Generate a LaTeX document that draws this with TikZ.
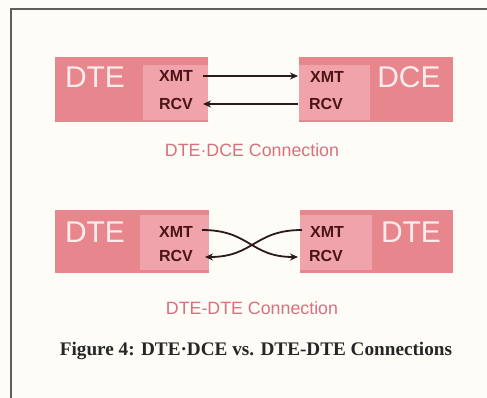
\documentclass[tikz,border=0pt]{standalone}
\usepackage{fontspec}
\setmainfont{Liberation Serif}
\setsansfont{Liberation Sans}
\usetikzlibrary{arrows.meta}
\definecolor{bg}{HTML}{FDFCF6}
\definecolor{boxout}{HTML}{E8868E}
\definecolor{boxin}{HTML}{F0A3AA}
\definecolor{bigtxt}{HTML}{FCEDEC}
\definecolor{sigtxt}{HTML}{4A1518}
\definecolor{wire}{HTML}{2A1A1A}
\definecolor{subtxt}{HTML}{D8707E}
\definecolor{frame}{HTML}{5E5E5A}
\tikzset{
  outerbox/.style={fill=boxout, draw=none},
  innerbox/.style={fill=boxin, draw=none},
  bigname/.style={font=\sffamily\fontsize{30}{30}\selectfont, text=bigtxt, inner sep=0pt},
  sig/.style={font=\sffamily\bfseries\fontsize{16}{16}\selectfont, text=sigtxt, inner sep=0pt},
  subcap/.style={font=\sffamily\fontsize{17.8}{17.8}\selectfont, text=subtxt, inner sep=0pt},
  figcap/.style={font=\bfseries\fontsize{19.2}{19.2}\selectfont, text=black!85, inner sep=0pt},
  wireline/.style={draw=wire, line width=1.8pt},
  tip/.style={-{Stealth[length=8pt,width=7pt]}}
}
\begin{document}
\begin{tikzpicture}[x=1pt,y=-1pt]
\useasboundingbox (0,0) rectangle (487,398);
\fill[bg] (0,0) rectangle (487,398);
% frame
\draw[frame, line width=2pt] (487,9) -- (11,9) -- (11,398);

% top pair
\fill[outerbox] (55,57) rectangle (208,122);
\fill[innerbox] (143,65) rectangle (208,120);
\fill[outerbox] (299,57) rectangle (453,122);
\fill[innerbox] (299,65) rectangle (370,120);
\node[bigname] (dteA) at (95,77) {DTE};
\node[bigname] (dceA) at (409,77) {DCE};
\node[sig] (xmtA) at (176,76) {XMT};
\node[sig] (rcvA) at (176,104) {RCV};
\node[sig] (xmtB) at (327,77) {XMT};
\node[sig] (rcvB) at (326,104) {RCV};
\coordinate (a1) at (203,76);
\coordinate (a2) at (298,76);
\coordinate (b1) at (298,104);
\coordinate (b2) at (203,104);
\draw[wireline, tip] (a1) -- (a2);
\draw[wireline, tip] (b1) -- (b2);
\node[subcap] (capA) at (252,150) {DTE·DCE Connection};

% bottom pair
\fill[outerbox] (55,210) rectangle (209,273);
\fill[innerbox] (140,215) rectangle (209,270);
\fill[outerbox] (300,210) rectangle (453,273);
\fill[innerbox] (300,215) rectangle (372,270);
\node[bigname] (dteC) at (95,232) {DTE};
\node[bigname] (dteD) at (411,232) {DTE};
\node[sig] (xmtC) at (176,232) {XMT};
\node[sig] (rcvC) at (176,256) {RCV};
\node[sig] (xmtD) at (327,232) {XMT};
\node[sig] (rcvD) at (326,256) {RCV};
\coordinate (c1) at (202,230);
\coordinate (c2) at (298,257);
\coordinate (d1) at (302,230);
\coordinate (d2) at (205,257);
\draw[wireline, tip] (c1) .. controls (250,230) and (250,257) .. (c2);
\draw[wireline, tip] (d1) .. controls (254,230) and (254,257) .. (d2);
\node[subcap] (capB) at (252,308) {DTE-DTE Connection};

\node[figcap] (fig) at (256,351) {Figure 4: DTE·DCE vs. DTE-DTE Connections};
\end{tikzpicture}
\end{document}
